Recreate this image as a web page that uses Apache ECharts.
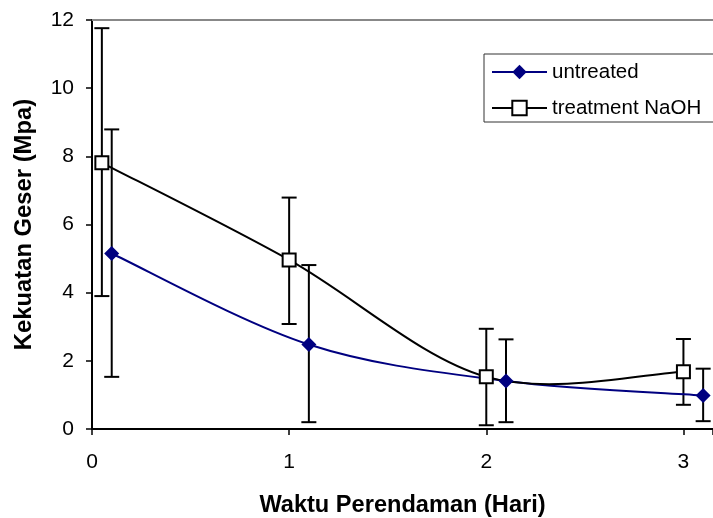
<!DOCTYPE html>
<html>
<head>
<meta charset="utf-8">
<script src="https://cdn.jsdelivr.net/npm/echarts@6/dist/echarts.min.js"></script>
<style>
  html, body { margin: 0; padding: 0; background: #fff; }
  #chart { width: 713px; height: 518px; }
</style>
</head>
<body>
<div id="chart"></div>
<script>
// Axis ticks
const xTickLabels = [0, 1, 2, 3];
const yTickLabels = [0, 2, 4, 6, 8, 10, 12];
const seriesNames = ['untreated', 'treatment NaOH'];

// Untreated fibre: soaking day (offset a little), mean shear strength, error bar range
const untreatedX = [0.1, 1.1, 2.1, 3.1];
const untreatedY = [5.15, 2.48, 1.41, 0.98];
const untreatedLow = [1.53, 0.2, 0.2, 0.23];
const untreatedHigh = [8.79, 4.81, 2.63, 1.77];

// NaOH treated fibre
const naohX = [0.05, 1.0, 2.0, 3.0];
const naohY = [7.81, 4.96, 1.53, 1.68];
const naohLow = [3.9, 3.08, 0.11, 0.71];
const naohHigh = [11.76, 6.79, 2.94, 2.64];

const FONT = "'Liberation Sans', Arial, sans-serif";
const NAVY = '#000080';

const pairs = (xs, ys) => xs.map((x, i) => [x, ys[i]]);
const bars = (xs, lo, hi) => xs.map((x, i) => [x, lo[i], hi[i]]);

// Vertical error bar with flat caps
function errorBarItem(params, api) {
  const x = api.value(0);
  const top = api.coord([x, api.value(2)]);
  const bot = api.coord([x, api.value(1)]);
  const half = 7.5;
  const style = { stroke: '#000', lineWidth: 2, fill: null };
  return {
    type: 'group',
    children: [
      { type: 'line', shape: { x1: top[0], y1: top[1], x2: bot[0], y2: bot[1] }, style },
      { type: 'line', shape: { x1: top[0] - half, y1: top[1], x2: top[0] + half, y2: top[1] }, style },
      { type: 'line', shape: { x1: bot[0] - half, y1: bot[1], x2: bot[0] + half, y2: bot[1] }, style }
    ]
  };
}

// Cardinal-spline segment from point i to i+1 (Bezier control points at 1/6 of the neighbour chord)
function smoothSegment(xs, ys, color) {
  const n = xs.length;
  return function (params, api) {
    const i = params.dataIndex;
    if (i >= n - 1) return null;
    const P = k => {
      const j = Math.max(0, Math.min(n - 1, k));
      return api.coord([xs[j], ys[j]]);
    };
    const p0 = P(i - 1), p1 = P(i), p2 = P(i + 1), p3 = P(i + 2);
    return {
      type: 'bezierCurve',
      shape: {
        x1: p1[0], y1: p1[1],
        cpx1: p1[0] + (p2[0] - p0[0]) / 6, cpy1: p1[1] + (p2[1] - p0[1]) / 6,
        cpx2: p2[0] - (p3[0] - p1[0]) / 6, cpy2: p2[1] - (p3[1] - p1[1]) / 6,
        x2: p2[0], y2: p2[1]
      },
      style: { stroke: color, lineWidth: 2, fill: null }
    };
  };
}

const chart = echarts.init(document.getElementById('chart'), null, { renderer: 'canvas' });
chart.setOption({
  animation: false,
  backgroundColor: '#fff',
  grid: { left: 92, right: 0, top: 20, bottom: 89, containLabel: false, outerBoundsMode: 'none' },
  legend: {
    data: [
      { name: seriesNames[0], lineStyle: { color: NAVY, width: 2, opacity: 1 } },
      { name: seriesNames[1], lineStyle: { color: '#000', width: 2, opacity: 1 } }
    ],
    orient: 'vertical',
    left: 484,
    top: 54,
    padding: [7, 16, 3, 7],
    itemWidth: 55,
    itemHeight: 18,
    itemGap: 14,
    borderColor: '#333',
    borderWidth: 1,
    backgroundColor: '#fff',
    textStyle: { fontFamily: FONT, fontSize: 20.5, color: '#000', lineHeight: 22 }
  },
  xAxis: [{
    type: 'value',
    min: 0,
    max: 3.15,
    interval: 1,
    name: 'Waktu Perendaman (Hari)',
    nameLocation: 'middle',
    nameGap: 64,
    nameTextStyle: { fontFamily: FONT, fontSize: 23.6, fontWeight: 'bold', color: '#000' },
    axisLine: { show: true, onZero: false, lineStyle: { color: '#000', width: 2 } },
    axisTick: { show: true, inside: false, length: 6, lineStyle: { color: '#000', width: 1.5 } },
    axisLabel: {
      margin: 23,
      fontFamily: FONT, fontSize: 21, color: '#000',
      formatter: v => (xTickLabels.indexOf(v) >= 0 ? String(v) : '')
    },
    splitLine: { show: false }
  }, {
    type: 'value',
    position: 'top',
    min: 0,
    max: 3.15,
    interval: 1,
    axisLine: { show: true, onZero: false, lineStyle: { color: '#888', width: 2 } },
    axisTick: { show: false },
    axisLabel: { show: false },
    splitLine: { show: false }
  }],
  yAxis: {
    type: 'value',
    min: 0,
    max: 12,
    interval: 2,
    name: 'Kekuatan Geser (Mpa)',
    nameLocation: 'middle',
    nameGap: 56,
    nameTextStyle: { fontFamily: FONT, fontSize: 23.8, fontWeight: 'bold', color: '#000' },
    axisLine: { show: true, lineStyle: { color: '#000', width: 2 } },
    axisTick: { show: true, inside: false, length: 6, lineStyle: { color: '#000', width: 1.5 } },
    axisLabel: {
      margin: 18,
      fontFamily: FONT, fontSize: 21, color: '#000',
      formatter: v => (yTickLabels.indexOf(v) >= 0 ? String(v) : '')
    },
    splitLine: { show: false }
  },
  series: [
    {
      name: 'untreated-err',
      type: 'custom',
      renderItem: errorBarItem,
      encode: { x: 0, y: [1, 2] },
      data: bars(untreatedX, untreatedLow, untreatedHigh),
      clip: false,
      z: 1,
      silent: true
    },
    {
      name: 'naoh-err',
      type: 'custom',
      renderItem: errorBarItem,
      encode: { x: 0, y: [1, 2] },
      data: bars(naohX, naohLow, naohHigh),
      clip: false,
      z: 1,
      silent: true
    },
    {
      name: 'untreated-curve',
      type: 'custom',
      renderItem: smoothSegment(untreatedX, untreatedY, NAVY),
      encode: { x: 0, y: 1 },
      data: pairs(untreatedX, untreatedY),
      clip: false,
      z: 2,
      silent: true
    },
    {
      name: 'naoh-curve',
      type: 'custom',
      renderItem: smoothSegment(naohX, naohY, '#000'),
      encode: { x: 0, y: 1 },
      data: pairs(naohX, naohY),
      clip: false,
      z: 2,
      silent: true
    },
    {
      name: seriesNames[0],
      type: 'line',
      data: pairs(untreatedX, untreatedY),
      symbol: 'diamond',
      symbolSize: 15,
      itemStyle: { color: NAVY },
      lineStyle: { color: NAVY, width: 0, opacity: 0 },
      z: 3
    },
    {
      name: seriesNames[1],
      type: 'line',
      data: pairs(naohX, naohY),
      symbol: 'rect',
      symbolSize: 13,
      itemStyle: { color: '#fff', borderColor: '#000', borderWidth: 2 },
      lineStyle: { color: '#000', width: 0, opacity: 0 },
      z: 4
    }
  ]
});
</script>
</body>
</html>
